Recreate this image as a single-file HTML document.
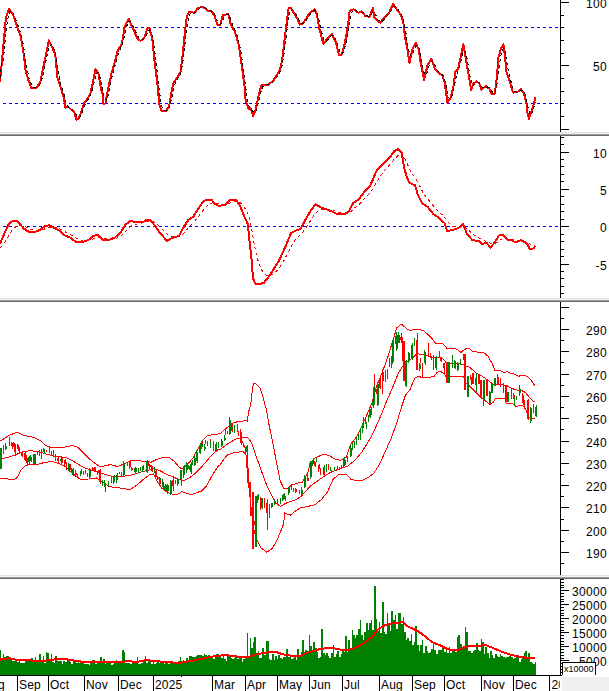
<!DOCTYPE html>
<html><head><meta charset="utf-8"><title>Chart</title>
<style>
html,body{margin:0;padding:0;background:#fff;}
body{width:609px;height:691px;overflow:hidden;}
svg{display:block;}
text{font-family:"Liberation Sans",sans-serif;fill:#000;}
</style></head><body>
<svg width="609" height="691" viewBox="0 0 609 691" shape-rendering="crispEdges">
<rect x="0" y="0" width="609" height="691" fill="#fff"/>
<rect x="560" y="0" width="1" height="132" fill="#000"/>
<rect x="560" y="136" width="1" height="162" fill="#000"/>
<rect x="560" y="302" width="1" height="273" fill="#000"/>
<rect x="560" y="579" width="1" height="97" fill="#000"/>
<rect x="0" y="132" width="609" height="1" fill="#e3e3e3"/>
<rect x="0" y="133" width="609" height="1" fill="#f0f0f0"/>
<rect x="0" y="134" width="609" height="1" fill="#a0a0a0"/>
<rect x="0" y="135" width="609" height="1" fill="#696969"/>
<rect x="0" y="298" width="609" height="1" fill="#e3e3e3"/>
<rect x="0" y="299" width="609" height="1" fill="#f0f0f0"/>
<rect x="0" y="300" width="609" height="1" fill="#a0a0a0"/>
<rect x="0" y="301" width="609" height="1" fill="#696969"/>
<rect x="0" y="575" width="609" height="1" fill="#e3e3e3"/>
<rect x="0" y="576" width="609" height="1" fill="#f0f0f0"/>
<rect x="0" y="577" width="609" height="1" fill="#a0a0a0"/>
<rect x="0" y="578" width="609" height="1" fill="#696969"/>
<rect x="560" y="129" width="9" height="1" fill="#000"/>
<rect x="560" y="116" width="4" height="1" fill="#000"/>
<rect x="560" y="103" width="4" height="1" fill="#000"/>
<rect x="560" y="91" width="4" height="1" fill="#000"/>
<rect x="560" y="78" width="4" height="1" fill="#000"/>
<rect x="560" y="65" width="9" height="1" fill="#000"/>
<rect x="560" y="53" width="4" height="1" fill="#000"/>
<rect x="560" y="40" width="4" height="1" fill="#000"/>
<rect x="560" y="27" width="4" height="1" fill="#000"/>
<rect x="560" y="15" width="4" height="1" fill="#000"/>
<rect x="560" y="2" width="9" height="1" fill="#000"/>
<text x="606.9" y="8.1" text-anchor="end" font-size="12" letter-spacing="0.3">100</text>
<text x="606.9" y="71.1" text-anchor="end" font-size="12" letter-spacing="0.3">50</text>
<rect x="560" y="293" width="4" height="1" fill="#000"/>
<rect x="560" y="286" width="4" height="1" fill="#000"/>
<rect x="560" y="278" width="4" height="1" fill="#000"/>
<rect x="560" y="271" width="4" height="1" fill="#000"/>
<rect x="560" y="264" width="9" height="1" fill="#000"/>
<rect x="560" y="256" width="4" height="1" fill="#000"/>
<rect x="560" y="249" width="4" height="1" fill="#000"/>
<rect x="560" y="241" width="4" height="1" fill="#000"/>
<rect x="560" y="234" width="4" height="1" fill="#000"/>
<rect x="560" y="226" width="9" height="1" fill="#000"/>
<rect x="560" y="219" width="4" height="1" fill="#000"/>
<rect x="560" y="211" width="4" height="1" fill="#000"/>
<rect x="560" y="204" width="4" height="1" fill="#000"/>
<rect x="560" y="196" width="4" height="1" fill="#000"/>
<rect x="560" y="189" width="9" height="1" fill="#000"/>
<rect x="560" y="181" width="4" height="1" fill="#000"/>
<rect x="560" y="174" width="4" height="1" fill="#000"/>
<rect x="560" y="166" width="4" height="1" fill="#000"/>
<rect x="560" y="159" width="4" height="1" fill="#000"/>
<rect x="560" y="152" width="9" height="1" fill="#000"/>
<rect x="560" y="144" width="4" height="1" fill="#000"/>
<rect x="560" y="137" width="4" height="1" fill="#000"/>
<text x="606.9" y="158.1" text-anchor="end" font-size="12" letter-spacing="0.3">10</text>
<text x="606.9" y="195.1" text-anchor="end" font-size="12" letter-spacing="0.3">5</text>
<text x="606.9" y="232.1" text-anchor="end" font-size="12" letter-spacing="0.3">0</text>
<text x="606.9" y="270.1" text-anchor="end" font-size="12" letter-spacing="0.3">-5</text>
<rect x="560" y="563" width="4" height="1" fill="#000"/>
<rect x="560" y="552" width="9" height="1" fill="#000"/>
<rect x="560" y="541" width="4" height="1" fill="#000"/>
<rect x="560" y="530" width="9" height="1" fill="#000"/>
<rect x="560" y="519" width="4" height="1" fill="#000"/>
<rect x="560" y="507" width="9" height="1" fill="#000"/>
<rect x="560" y="496" width="4" height="1" fill="#000"/>
<rect x="560" y="485" width="9" height="1" fill="#000"/>
<rect x="560" y="474" width="4" height="1" fill="#000"/>
<rect x="560" y="463" width="9" height="1" fill="#000"/>
<rect x="560" y="452" width="4" height="1" fill="#000"/>
<rect x="560" y="441" width="9" height="1" fill="#000"/>
<rect x="560" y="429" width="4" height="1" fill="#000"/>
<rect x="560" y="418" width="9" height="1" fill="#000"/>
<rect x="560" y="407" width="4" height="1" fill="#000"/>
<rect x="560" y="396" width="9" height="1" fill="#000"/>
<rect x="560" y="385" width="4" height="1" fill="#000"/>
<rect x="560" y="374" width="9" height="1" fill="#000"/>
<rect x="560" y="362" width="4" height="1" fill="#000"/>
<rect x="560" y="351" width="9" height="1" fill="#000"/>
<rect x="560" y="340" width="4" height="1" fill="#000"/>
<rect x="560" y="329" width="9" height="1" fill="#000"/>
<rect x="560" y="318" width="4" height="1" fill="#000"/>
<rect x="560" y="307" width="9" height="1" fill="#000"/>
<text x="606.9" y="558.1" text-anchor="end" font-size="12" letter-spacing="0.3">190</text>
<text x="606.9" y="536.1" text-anchor="end" font-size="12" letter-spacing="0.3">200</text>
<text x="606.9" y="513.1" text-anchor="end" font-size="12" letter-spacing="0.3">210</text>
<text x="606.9" y="491.1" text-anchor="end" font-size="12" letter-spacing="0.3">220</text>
<text x="606.9" y="469.1" text-anchor="end" font-size="12" letter-spacing="0.3">230</text>
<text x="606.9" y="447.1" text-anchor="end" font-size="12" letter-spacing="0.3">240</text>
<text x="606.9" y="424.1" text-anchor="end" font-size="12" letter-spacing="0.3">250</text>
<text x="606.9" y="402.1" text-anchor="end" font-size="12" letter-spacing="0.3">260</text>
<text x="606.9" y="380.1" text-anchor="end" font-size="12" letter-spacing="0.3">270</text>
<text x="606.9" y="357.1" text-anchor="end" font-size="12" letter-spacing="0.3">280</text>
<text x="606.9" y="335.1" text-anchor="end" font-size="12" letter-spacing="0.3">290</text>
<rect x="560" y="672" width="4" height="1" fill="#000"/>
<rect x="560" y="669" width="4" height="1" fill="#000"/>
<rect x="560" y="666" width="4" height="1" fill="#000"/>
<rect x="560" y="663" width="4" height="1" fill="#000"/>
<rect x="560" y="660" width="9" height="1" fill="#000"/>
<rect x="560" y="658" width="4" height="1" fill="#000"/>
<rect x="560" y="655" width="4" height="1" fill="#000"/>
<rect x="560" y="652" width="4" height="1" fill="#000"/>
<rect x="560" y="649" width="4" height="1" fill="#000"/>
<rect x="560" y="646" width="9" height="1" fill="#000"/>
<rect x="560" y="644" width="4" height="1" fill="#000"/>
<rect x="560" y="641" width="4" height="1" fill="#000"/>
<rect x="560" y="638" width="4" height="1" fill="#000"/>
<rect x="560" y="635" width="4" height="1" fill="#000"/>
<rect x="560" y="632" width="9" height="1" fill="#000"/>
<rect x="560" y="630" width="4" height="1" fill="#000"/>
<rect x="560" y="627" width="4" height="1" fill="#000"/>
<rect x="560" y="624" width="4" height="1" fill="#000"/>
<rect x="560" y="621" width="4" height="1" fill="#000"/>
<rect x="560" y="618" width="9" height="1" fill="#000"/>
<rect x="560" y="615" width="4" height="1" fill="#000"/>
<rect x="560" y="613" width="4" height="1" fill="#000"/>
<rect x="560" y="610" width="4" height="1" fill="#000"/>
<rect x="560" y="607" width="4" height="1" fill="#000"/>
<rect x="560" y="604" width="9" height="1" fill="#000"/>
<rect x="560" y="601" width="4" height="1" fill="#000"/>
<rect x="560" y="599" width="4" height="1" fill="#000"/>
<rect x="560" y="596" width="4" height="1" fill="#000"/>
<rect x="560" y="593" width="4" height="1" fill="#000"/>
<rect x="560" y="590" width="9" height="1" fill="#000"/>
<rect x="560" y="587" width="4" height="1" fill="#000"/>
<rect x="560" y="585" width="4" height="1" fill="#000"/>
<rect x="560" y="582" width="4" height="1" fill="#000"/>
<rect x="560" y="579" width="4" height="1" fill="#000"/>
<text x="606.9" y="596.1" text-anchor="end" font-size="12" letter-spacing="0.3">30000</text>
<text x="606.9" y="610.1" text-anchor="end" font-size="12" letter-spacing="0.3">25000</text>
<text x="606.9" y="624.1" text-anchor="end" font-size="12" letter-spacing="0.3">20000</text>
<text x="606.9" y="638.1" text-anchor="end" font-size="12" letter-spacing="0.3">15000</text>
<text x="606.9" y="652.1" text-anchor="end" font-size="12" letter-spacing="0.3">10000</text>
<text x="606.9" y="666.1" text-anchor="end" font-size="12" letter-spacing="0.3">5000</text>
<line x1="3" y1="27.5" x2="560" y2="27.5" stroke="#0000ff" stroke-width="1" stroke-dasharray="3 3"/>
<line x1="3" y1="103.5" x2="560" y2="103.5" stroke="#0000ff" stroke-width="1" stroke-dasharray="3 3"/>
<line x1="3" y1="226.5" x2="560" y2="226.5" stroke="#0000ff" stroke-width="1" stroke-dasharray="3 3"/>
<polyline points="0.0,81.8 1.6,65.0 3.9,39.4 5.9,17.7 8.9,8.9 12.8,13.8 16.7,25.6 20.7,36.5 23.6,53.2 25.6,71.0 28.6,80.8 31.1,87.7 36.5,88.0 40.4,81.8 43.3,67.0 46.3,53.2 48.9,40.4 51.6,46.3 55.2,54.2 57.5,77.8 61.1,88.7 64.0,98.5 65.4,108.0 68.0,106.4 70.9,109.4 73.9,111.3 76.5,119.6 78.8,118.2 81.8,110.3 84.3,102.5 87.7,98.5 90.6,92.6 93.6,78.8 95.6,69.0 98.5,73.9 100.9,88.7 102.9,94.6 103.4,103.8 105.4,103.4 108.0,89.7 111.3,73.9 113.9,65.0 117.9,50.2 121.8,44.3 124.8,26.6 128.7,18.7 130.7,23.6 133.6,29.6 136.6,37.4 140.5,41.0 144.5,37.4 147.4,28.6 149.4,28.2 152.4,39.4 154.3,59.1 157.3,82.8 159.3,104.4 161.6,111.3 166.2,110.7 169.1,106.4 171.1,94.6 173.1,83.7 177.0,77.8 180.5,71.9 182.9,53.2 184.9,31.5 186.8,16.7 189.2,11.8 194.7,12.8 197.7,8.3 201.6,6.9 204.6,7.9 207.5,10.8 211.5,10.8 214.4,15.8 217.4,24.6 220.0,25.6 223.0,14.8 228.3,14.2 230.8,24.6 234.8,31.5 238.7,44.3 241.7,65.0 244.6,86.7 245.6,100.5 248.6,109.4 250.5,108.4 253.1,115.9 255.5,110.3 258.4,96.6 261.4,85.1 268.3,84.7 273.2,80.8 276.2,75.9 279.1,71.9 282.1,61.1 284.6,39.4 287.0,19.7 288.6,8.3 290.9,7.9 294.9,14.8 297.8,19.7 299.8,24.6 302.8,23.6 306.7,17.7 309.7,12.8 314.6,9.3 316.9,14.8 319.5,29.6 323.4,43.7 327.4,38.4 331.9,33.9 335.9,42.4 338.9,54.8 341.8,54.8 344.8,43.3 347.7,27.6 349.7,10.8 353.6,9.3 358.6,12.8 361.5,11.4 365.5,16.2 369.4,16.7 373.0,7.9 374.3,17.7 380.2,22.7 384.2,17.7 389.1,12.8 393.1,3.9 397.0,9.9 400.9,14.8 403.3,21.7 404.9,36.5 407.8,51.2 409.4,63.1 412.4,49.3 415.7,43.0 418.7,49.3 421.0,65.0 424.2,79.8 427.5,65.0 431.5,58.7 434.4,68.0 437.4,71.9 442.3,75.3 444.7,82.8 447.5,102.5 450.8,97.5 453.4,86.7 455.4,71.3 458.1,69.0 460.7,57.1 463.3,44.3 464.6,51.2 467.6,69.0 471.1,89.7 473.5,83.7 476.5,81.2 479.4,83.7 481.4,89.7 485.7,86.1 489.3,88.7 491.6,93.6 494.8,93.6 496.7,78.8 498.5,57.1 501.1,48.3 503.4,44.3 505.0,57.1 506.6,72.9 510.0,81.8 512.9,92.6 517.2,92.2 520.8,89.1 523.7,92.6 526.3,102.5 527.7,114.3 529.1,118.8 531.0,112.3 533.6,104.4 535.6,96.6" fill="none" stroke="#ff0000" stroke-width="2" stroke-linejoin="round"/>
<polyline points="0.1,77.6 1.7,60.6 3.3,60.4 4.9,43.0 6.5,27.9 8.1,17.0 9.7,11.9 11.3,11.0 12.8,12.4 14.4,15.6 16.0,19.7 17.6,24.4 19.2,28.9 20.8,33.7 22.4,40.1 24.0,48.8 25.6,59.8 27.2,69.5 28.8,77.1 30.4,81.9 32.0,85.5 33.6,87.4 35.1,87.9 36.7,87.6 38.3,86.6 39.9,84.6 41.5,80.4 43.1,74.4 44.7,66.7 46.3,59.1 47.9,51.6 49.5,46.0 51.1,44.0 52.7,45.8 54.3,49.3 55.9,55.4 57.4,65.1 59.0,75.3 60.6,83.4 62.2,88.4 63.8,93.7 65.4,100.2 67.0,104.6 68.6,107.3 70.2,107.7 71.8,108.8 73.4,110.1 75.0,112.3 76.6,115.4 78.2,117.8 79.8,117.6 81.3,114.7 82.9,110.5 84.5,106.1 86.1,102.6 87.7,99.9 89.3,97.5 90.9,94.1 92.5,89.0 94.1,82.4 95.7,75.7 97.3,72.3 98.9,73.3 100.5,79.4 102.1,86.3 103.6,94.8 105.2,99.8 106.8,100.2 108.4,94.4 110.0,86.4 111.6,78.9 113.2,72.3 114.8,66.2 116.4,60.5 118.0,55.0 119.6,50.5 121.2,47.2 122.8,43.0 124.4,36.4 125.9,29.3 127.5,23.9 129.1,21.5 130.7,21.7 132.3,24.1 133.9,27.7 135.5,31.4 137.1,34.9 138.7,37.7 140.3,39.6 141.9,40.0 143.5,39.5 145.1,37.4 146.7,34.3 148.2,31.0 149.8,29.8 151.4,32.1 153.0,39.0 154.6,50.0 156.2,63.2 157.8,77.4 159.4,91.2 161.0,102.5 162.6,109.0 164.2,110.8 165.8,110.9 167.4,110.1 169.0,108.2 170.6,103.4 172.1,96.3 173.7,88.5 175.3,83.1 176.9,79.9 178.5,77.3 180.1,74.7 181.7,69.0 183.3,59.3 184.9,45.0 186.5,30.6 188.1,19.9 189.7,14.1 191.3,12.6 192.9,12.2 194.4,12.5 196.0,11.9 197.6,10.4 199.2,8.7 200.8,7.6 202.4,7.3 204.0,7.4 205.6,8.1 207.2,9.3 208.8,10.3 210.4,10.8 212.0,11.2 213.6,12.6 215.2,15.3 216.7,19.1 218.3,22.5 219.9,24.5 221.5,23.0 223.1,19.5 224.7,16.1 226.3,14.6 227.9,14.4 229.5,16.3 231.1,20.1 232.7,24.8 234.3,28.4 235.9,31.8 237.5,36.1 239.0,42.0 240.6,49.9 242.2,59.9 243.8,71.4 245.4,85.1 247.0,96.5 248.6,105.2 250.2,107.7 251.8,110.2 253.4,112.0 255.0,112.8 256.6,109.7 258.2,103.7 259.8,96.8 261.4,90.6 262.9,86.8 264.5,85.0 266.1,84.9 267.7,84.8 269.3,84.4 270.9,83.6 272.5,82.4 274.1,80.8 275.7,78.7 277.3,76.4 278.9,74.0 280.5,70.5 282.1,65.5 283.7,56.6 285.2,45.2 286.8,31.8 288.4,19.5 290.0,11.7 291.6,8.6 293.2,10.0 294.8,12.4 296.4,15.1 298.0,18.0 299.6,21.1 301.2,23.2 302.8,23.9 304.4,22.7 306.0,20.8 307.5,18.3 309.1,15.8 310.7,13.6 312.3,11.9 313.9,10.7 315.5,10.8 317.1,13.2 318.7,18.9 320.3,26.0 321.9,33.2 323.5,38.7 325.1,41.2 326.7,41.1 328.3,39.1 329.9,37.3 331.4,35.6 333.0,35.6 334.6,37.1 336.2,40.8 337.8,45.6 339.4,50.4 341.0,53.7 342.6,53.4 344.2,50.0 345.8,43.8 347.4,36.2 349.0,26.2 350.6,17.5 352.2,11.5 353.7,9.9 355.3,10.0 356.9,10.7 358.5,11.8 360.1,12.2 361.7,12.2 363.3,12.6 364.9,13.9 366.5,15.4 368.1,16.3 369.7,16.1 371.3,14.4 372.9,11.9 374.5,12.9 376.0,15.5 377.6,19.4 379.2,20.8 380.8,21.5 382.4,21.1 384.0,19.6 385.6,17.7 387.2,16.0 388.8,14.4 390.4,12.2 392.0,9.3 393.6,6.7 395.2,6.1 396.8,7.5 398.3,9.8 399.9,12.0 401.5,14.5 403.1,18.1 404.7,25.8 406.3,35.1 407.9,45.5 409.5,53.6 411.1,56.5 412.7,54.5 414.3,49.1 415.9,45.8 417.5,45.5 419.1,48.4 420.7,55.3 422.2,63.5 423.8,72.1 425.4,74.9 427.0,72.7 428.6,67.2 430.2,62.9 431.8,61.2 433.4,62.2 435.0,65.2 436.6,68.7 438.2,71.0 439.8,72.5 441.4,73.8 443.0,75.6 444.5,79.0 446.1,85.7 447.7,93.5 449.3,98.7 450.9,98.9 452.5,94.7 454.1,88.0 455.7,79.6 457.3,73.1 458.9,68.1 460.5,63.4 462.1,56.5 463.7,51.1 465.3,51.2 466.8,57.0 468.4,66.3 470.0,75.8 471.6,82.9 473.2,85.5 474.8,84.6 476.4,82.5 478.0,82.2 479.6,83.1 481.2,85.9 482.8,87.7 484.4,88.3 486.0,87.3 487.6,87.0 489.2,87.7 490.7,89.7 492.3,91.7 493.9,93.2 495.5,90.9 497.1,83.1 498.7,70.4 500.3,58.5 501.9,50.6 503.5,47.9 505.1,51.6 506.7,60.7 508.3,70.9 509.9,78.1 511.5,82.9 513.0,87.8 514.6,91.1 516.2,92.4 517.8,92.0 519.4,91.2 521.0,90.4 522.6,90.5 524.2,92.3 525.8,96.3 527.4,103.8 529.0,111.4 530.6,115.0 532.2,112.9 533.8,107.7 535.3,102.4" fill="none" stroke="#000" stroke-width="1" stroke-dasharray="3 3"/>
<polyline points="0.4,247.8 2.0,246.0 3.6,243.9 5.2,241.5 6.8,238.8 8.4,236.0 10.0,233.4 11.6,231.1 13.1,229.2 14.7,227.6 16.3,226.3 17.9,225.5 19.5,225.1 21.1,225.2 22.7,225.6 24.3,226.3 25.9,227.0 27.5,227.8 29.1,228.6 30.7,229.3 32.3,229.8 33.9,230.3 35.4,230.6 37.0,230.7 38.6,230.7 40.2,230.4 41.8,230.0 43.4,229.4 45.0,228.8 46.6,228.2 48.2,227.7 49.8,227.3 51.4,227.1 53.0,227.2 54.6,227.3 56.2,227.7 57.7,228.1 59.3,228.7 60.9,229.3 62.5,230.2 64.1,231.1 65.7,232.1 67.3,232.9 68.9,233.8 70.5,234.6 72.1,235.4 73.7,236.4 75.3,237.4 76.9,238.4 78.5,239.2 80.1,239.8 81.6,240.3 83.2,240.6 84.8,240.7 86.4,240.7 88.0,240.6 89.6,240.3 91.2,239.7 92.8,239.0 94.4,238.3 96.0,237.7 97.6,237.2 99.2,237.0 100.8,237.1 102.4,237.5 103.9,238.0 105.5,238.3 107.1,238.7 108.7,239.0 110.3,239.1 111.9,239.0 113.5,238.8 115.1,238.5 116.7,238.0 118.3,237.3 119.9,236.5 121.5,235.4 123.1,234.0 124.7,232.4 126.2,230.7 127.8,229.1 129.4,227.6 131.0,226.3 132.6,225.4 134.2,224.6 135.8,224.2 137.4,223.8 139.0,223.4 140.6,223.2 142.2,223.0 143.8,222.7 145.4,222.3 147.0,221.8 148.5,221.5 150.1,221.2 151.7,221.4 153.3,221.9 154.9,222.6 156.5,223.7 158.1,225.0 159.7,226.5 161.3,228.1 162.9,229.7 164.5,231.4 166.1,233.1 167.7,234.5 169.3,235.5 170.9,236.2 172.4,236.5 174.0,236.7 175.6,236.8 177.2,236.7 178.8,236.5 180.4,235.8 182.0,234.7 183.6,233.2 185.2,231.5 186.8,229.7 188.4,227.8 190.0,226.0 191.6,224.3 193.2,222.8 194.7,221.1 196.3,219.3 197.9,217.3 199.5,215.2 201.1,213.1 202.7,210.9 204.3,208.9 205.9,207.1 207.5,205.6 209.1,204.4 210.7,203.4 212.3,202.9 213.9,202.8 215.5,203.1 217.0,203.5 218.6,203.9 220.2,204.2 221.8,204.5 223.4,204.6 225.0,204.6 226.6,204.4 228.2,203.9 229.8,203.2 231.4,202.5 233.0,202.0 234.6,201.6 236.2,201.3 237.8,201.5 239.3,202.1 240.9,203.3 242.5,205.1 244.1,207.2 245.7,209.7 247.3,212.3 248.9,216.9 250.5,223.5 252.1,231.9 253.7,241.5 255.3,249.9 256.9,256.7 258.5,262.1 260.1,266.5 261.7,269.9 263.2,272.5 264.8,274.3 266.4,275.4 268.0,275.8 269.6,275.7 271.2,275.1 272.8,274.2 274.4,272.9 276.0,271.4 277.6,269.7 279.2,267.8 280.8,265.6 282.4,263.1 284.0,260.5 285.5,257.6 287.1,254.6 288.7,251.4 290.3,248.1 291.9,244.9 293.5,242.3 295.1,240.0 296.7,238.1 298.3,236.4 299.9,235.0 301.5,233.4 303.1,231.6 304.7,229.5 306.3,227.3 307.8,224.9 309.4,222.5 311.0,220.0 312.6,217.6 314.2,215.3 315.8,213.1 317.4,211.6 319.0,210.5 320.6,209.9 322.2,209.5 323.8,209.3 325.4,209.2 327.0,209.3 328.6,209.4 330.2,209.7 331.7,210.0 333.3,210.5 334.9,211.0 336.5,211.6 338.1,212.0 339.7,212.5 341.3,212.8 342.9,213.1 344.5,213.3 346.1,213.3 347.7,213.1 349.3,212.5 350.9,211.5 352.5,210.1 354.0,208.6 355.6,207.1 357.2,205.8 358.8,204.5 360.4,203.0 362.0,201.4 363.6,199.7 365.2,197.9 366.8,196.2 368.4,194.6 370.0,192.9 371.6,190.8 373.2,188.4 374.8,185.7 376.3,182.9 377.9,180.0 379.5,177.5 381.1,175.1 382.7,172.9 384.3,170.8 385.9,168.9 387.5,167.1 389.1,165.3 390.7,163.5 392.3,161.6 393.9,159.6 395.5,157.8 397.1,156.2 398.6,154.8 400.2,154.0 401.8,153.8 403.4,155.8 405.0,158.8 406.6,162.3 408.2,165.9 409.8,169.3 411.4,172.2 413.0,174.7 414.6,176.8 416.2,179.2 417.8,182.3 419.4,185.4 421.0,188.5 422.5,191.6 424.1,194.2 425.7,196.5 427.3,198.6 428.9,200.5 430.5,202.5 432.1,204.5 433.7,206.5 435.3,208.3 436.9,209.9 438.5,211.4 440.1,213.0 441.7,214.4 443.3,215.9 444.8,217.6 446.4,219.9 448.0,222.1 449.6,223.8 451.2,225.1 452.8,226.1 454.4,226.7 456.0,227.2 457.6,227.4 459.2,227.4 460.8,227.1 462.4,226.7 464.0,226.6 465.6,227.4 467.1,228.7 468.7,230.1 470.3,231.6 471.9,233.2 473.5,234.7 475.1,235.8 476.7,236.8 478.3,237.7 479.9,238.5 481.5,239.5 483.1,240.4 484.7,241.0 486.3,241.3 487.9,241.9 489.5,242.8 491.0,243.6 492.6,243.9 494.2,243.7 495.8,243.1 497.4,242.1 499.0,240.7 500.6,239.6 502.2,238.7 503.8,238.1 505.4,238.0 507.0,238.3 508.6,238.6 510.2,238.9 511.8,239.2 513.3,239.6 514.9,240.1 516.5,240.5 518.1,240.7 519.7,240.7 521.3,240.6 522.9,240.8 524.5,241.1 526.1,241.5 527.7,242.1 529.3,243.3 530.9,244.4 532.5,245.3 534.1,245.9 535.6,246.3" fill="none" stroke="#ff0000" stroke-width="1" stroke-dasharray="3 3"/>
<polyline points="0.0,243.7 3.6,235.3 8.4,224.6 11.9,221.5 16.7,221.0 20.3,224.6 23.9,228.6 28.7,231.8 34.6,232.2 39.4,230.1 44.2,226.5 49.0,225.3 53.8,227.7 59.7,231.0 64.5,235.3 70.5,237.7 76.4,242.5 82.4,242.0 88.4,240.1 93.2,235.8 97.9,234.9 102.7,239.6 108.7,240.1 114.7,237.7 120.6,232.5 125.4,224.6 130.2,221.0 136.0,222.2 143.1,222.2 146.7,219.8 150.3,220.3 155.1,225.8 159.9,232.9 167.0,240.8 171.8,238.2 179.0,235.8 183.7,227.0 188.5,219.8 193.3,216.7 198.1,209.1 202.9,201.9 206.4,199.5 211.2,199.5 214.8,203.8 218.4,205.7 224.4,205.2 230.3,200.0 236.3,200.0 239.9,205.5 244.7,217.4 247.8,223.9 249.4,240.1 251.8,261.6 253.0,278.3 255.4,283.8 260.0,283.8 263.6,283.1 268.4,277.1 273.1,270.0 279.1,260.4 285.1,247.3 291.1,232.9 295.8,230.6 300.6,228.9 305.4,219.8 310.2,211.4 315.4,204.3 320.9,207.4 329.3,210.3 336.4,213.8 343.6,214.5 348.4,211.9 353.2,203.1 359.1,199.0 363.9,192.3 369.9,186.4 373.5,178.0 377.1,169.6 381.8,164.9 387.8,159.6 390.0,157.3 394.2,151.2 398.4,149.0 401.7,152.3 404.0,167.1 406.7,176.9 409.5,183.0 415.1,185.3 417.9,195.0 422.1,203.4 427.7,207.0 433.3,214.0 438.9,217.9 444.4,222.9 447.2,231.3 452.8,229.9 458.4,228.0 463.1,224.3 466.8,233.5 472.4,240.2 479.3,241.1 482.1,244.4 486.3,242.5 490.5,247.5 494.7,242.5 498.9,235.5 503.1,234.9 507.3,239.7 511.4,240.2 515.6,242.5 520.7,240.2 524.0,241.9 527.6,244.4 529.6,248.9 532.4,248.6 535.2,248.1" fill="none" stroke="#ff0000" stroke-width="2" stroke-linejoin="round"/>
<polyline points="0.0,441.1 8.9,435.6 16.7,432.1 24.6,435.6 33.5,437.2 40.4,440.5 45.3,445.5 50.2,447.4 61.1,447.8 67.0,446.5 72.9,445.5 77.8,447.4 82.8,452.4 88.7,458.3 94.6,463.2 100.5,466.7 106.4,465.6 110.0,464.6 117.9,466.6 123.8,464.0 129.7,461.1 135.6,460.1 143.5,461.5 151.4,462.1 157.3,459.1 163.2,457.5 169.1,457.5 174.0,461.1 179.0,467.0 181.9,469.0 187.8,464.0 192.8,458.1 197.7,449.3 202.6,440.4 207.5,435.5 214.4,434.5 220.0,433.7 226.9,427.7 233.7,422.2 236.0,422.4 237.2,421.3 242.6,421.2 243.4,420.5 247.1,420.5 247.6,421.2 248.3,413.0 249.5,408.8 250.8,403.9 251.6,397.8 252.4,389.1 253.4,384.2 254.7,383.2 255.7,383.6 259.8,387.5 260.6,389.5 262.3,394.9 263.3,397.3 264.3,402.3 265.6,407.2 266.5,409.3 267.4,415.4 268.4,421.2 269.3,426.0 273.6,446.9 277.7,468.9 280.4,481.3 283.7,488.1 287.3,488.7 291.4,485.4 296.9,483.2 302.4,482.1 307.9,473.0 310.0,463.3 315.8,457.5 323.0,454.6 328.8,455.2 334.6,458.9 340.4,460.4 346.1,457.5 350.5,444.5 356.3,437.2 362.1,425.7 367.8,412.7 372.2,402.5 376.5,386.6 382.3,372.2 388.1,356.3 392.4,341.8 396.8,327.9 401.1,323.9 406.9,328.8 410.0,330.4 414.6,329.3 419.0,329.5 423.9,331.0 428.0,334.5 432.0,338.5 436.0,343.7 443.0,343.7 447.0,348.4 455.2,348.4 458.0,350.0 461.0,352.4 464.4,349.5 466.8,348.4 470.0,349.0 471.7,350.9 477.5,352.1 483.2,352.1 487.8,356.0 492.4,364.0 495.0,370.6 499.0,370.1 502.1,371.6 504.6,372.7 507.1,371.3 510.2,373.2 512.7,373.2 516.3,375.2 518.8,376.2 522.3,375.2 527.4,376.2 529.9,378.7 535.0,385.8" fill="none" stroke="#ff0000" stroke-width="1"/>
<polyline points="0.0,459.3 7.9,457.3 15.8,454.9 21.7,452.0 29.6,450.8 38.4,451.4 45.3,453.7 53.2,455.9 61.1,456.9 68.0,458.3 74.9,462.2 80.8,465.8 86.7,468.7 92.6,470.7 98.5,472.1 104.4,474.0 110.0,475.9 117.9,476.8 125.8,475.9 133.6,474.5 141.5,471.9 149.4,469.9 154.3,468.6 161.2,471.3 167.1,474.5 173.1,476.8 179.0,479.8 183.9,480.4 188.8,478.4 194.7,473.9 200.6,468.0 206.6,461.1 212.5,454.2 218.4,449.3 220.0,449.7 228.2,443.6 236.5,438.7 243.4,437.3 247.5,437.3 251.6,442.8 255.7,455.2 261.2,470.3 266.7,485.4 272.2,496.4 276.3,503.2 280.4,506.5 285.9,503.2 291.4,501.3 296.9,499.1 302.4,495.0 307.9,488.7 310.0,486.4 315.8,482.1 323.0,477.2 330.2,472.5 338.9,469.1 347.6,466.2 354.8,460.4 362.1,451.7 369.3,440.1 375.1,428.6 380.9,415.6 386.6,401.1 392.4,388.1 398.2,373.6 402.5,366.4 408.3,360.6 410.0,359.4 412.3,358.2 415.8,354.7 417.5,353.6 421.6,354.5 427.4,355.3 430.3,357.0 434.9,357.6 440.1,357.0 443.6,359.4 445.9,362.3 449.4,362.9 454.0,363.4 459.8,364.0 463.9,364.6 466.8,366.3 470.0,367.5 476.3,373.2 482.1,376.2 487.8,380.1 493.6,384.7 495.0,384.8 500.0,384.3 503.1,384.8 507.1,385.8 511.2,388.3 516.3,389.9 521.3,390.4 525.4,392.4 529.4,397.4 533.5,401.5 535.0,401.5" fill="none" stroke="#ff0000" stroke-width="1"/>
<polyline points="0.0,478.0 7.9,479.0 13.8,480.0 17.7,477.0 20.7,470.1 24.6,466.2 29.6,464.2 38.4,464.2 45.3,462.2 52.2,461.6 59.1,463.6 65.0,466.2 70.9,472.1 76.8,477.0 80.8,479.4 88.7,479.0 96.6,478.0 102.5,481.9 108.4,485.9 110.0,486.7 117.9,487.7 123.8,488.7 129.7,489.7 134.6,486.7 139.6,482.8 144.5,478.4 149.4,474.9 153.3,473.9 157.3,481.8 162.2,488.7 168.1,492.6 173.1,494.6 178.0,494.2 181.9,491.6 187.8,493.6 191.8,494.6 196.7,492.6 201.6,491.0 206.6,485.7 212.5,474.9 218.4,466.0 220.0,464.8 226.9,455.2 235.1,452.4 243.4,451.6 246.1,455.2 247.5,474.4 249.7,493.6 251.6,512.9 254.3,532.1 257.1,540.3 261.2,548.0 266.7,552.1 272.2,548.6 276.3,541.7 280.4,532.1 283.7,523.8 284.7,512.9 290.2,515.2 294.1,512.1 299.5,508.2 306.6,506.6 314.4,505.0 321.4,499.6 327.6,491.8 333.1,479.3 338.5,474.6 346.3,474.3 351.0,479.3 356.5,480.6 362.1,480.6 367.8,477.7 373.6,473.4 379.4,464.7 385.2,451.7 391.0,438.7 396.8,422.8 401.1,408.3 405.4,395.3 410.0,389.5 412.3,383.7 415.2,377.9 418.1,376.4 421.6,377.3 427.4,377.7 434.3,376.2 437.2,372.1 440.7,371.5 444.7,373.9 445.9,376.8 457.5,376.8 463.3,376.2 465.6,382.5 470.0,386.6 476.3,392.8 482.1,398.5 486.7,402.0 490.1,404.3 493.6,402.0 495.0,399.0 505.1,398.5 506.1,403.0 511.7,403.0 516.3,406.6 521.8,405.0 524.4,407.6 526.4,410.6 528.4,417.7 535.0,418.5" fill="none" stroke="#ff0000" stroke-width="1"/>
<rect x="0" y="448" width="2" height="21" fill="#008000"/>
<rect x="3" y="445" width="1" height="9" fill="#008000"/>
<rect x="5" y="443" width="1" height="7" fill="#008000"/>
<rect x="6" y="446" width="1" height="3" fill="#008000"/>
<rect x="9" y="437" width="1" height="9" fill="#008000"/>
<rect x="11" y="442" width="1" height="4" fill="#ff0000"/>
<rect x="12" y="443" width="1" height="6" fill="#ff0000"/>
<rect x="13" y="442" width="1" height="5" fill="#ff0000"/>
<rect x="14" y="443" width="1" height="9" fill="#ff0000"/>
<rect x="15" y="444" width="1" height="10" fill="#ff0000"/>
<rect x="17" y="444" width="1" height="5" fill="#ff0000"/>
<rect x="18" y="445" width="1" height="6" fill="#ff0000"/>
<rect x="19" y="447" width="1" height="6" fill="#ff0000"/>
<rect x="21" y="452" width="1" height="4" fill="#ff0000"/>
<rect x="22" y="452" width="1" height="5" fill="#ff0000"/>
<rect x="24" y="453" width="1" height="7" fill="#ff0000"/>
<rect x="25" y="451" width="1" height="10" fill="#ff0000"/>
<rect x="26" y="455" width="1" height="8" fill="#ff0000"/>
<rect x="27" y="458" width="1" height="6" fill="#008000"/>
<rect x="28" y="457" width="1" height="5" fill="#008000"/>
<rect x="29" y="456" width="1" height="8" fill="#008000"/>
<rect x="30" y="455" width="1" height="6" fill="#008000"/>
<rect x="31" y="457" width="1" height="5" fill="#008000"/>
<rect x="33" y="454" width="3" height="10" fill="#008000"/>
<rect x="37" y="451" width="1" height="4" fill="#008000"/>
<rect x="39" y="450" width="1" height="6" fill="#008000"/>
<rect x="41" y="449" width="1" height="10" fill="#008000"/>
<rect x="43" y="448" width="1" height="4" fill="#ff0000"/>
<rect x="44" y="449" width="1" height="5" fill="#008000"/>
<rect x="46" y="450" width="1" height="2" fill="#ff0000"/>
<rect x="49" y="446" width="1" height="7" fill="#008000"/>
<rect x="51" y="451" width="1" height="5" fill="#ff0000"/>
<rect x="53" y="450" width="1" height="7" fill="#ff0000"/>
<rect x="55" y="454" width="1" height="7" fill="#ff0000"/>
<rect x="57" y="458" width="1" height="3" fill="#008000"/>
<rect x="58" y="457" width="1" height="6" fill="#ff0000"/>
<rect x="60" y="459" width="1" height="2" fill="#008000"/>
<rect x="61" y="456" width="1" height="8" fill="#ff0000"/>
<rect x="62" y="457" width="1" height="6" fill="#ff0000"/>
<rect x="64" y="460" width="1" height="7" fill="#ff0000"/>
<rect x="65" y="459" width="1" height="5" fill="#ff0000"/>
<rect x="66" y="462" width="1" height="8" fill="#ff0000"/>
<rect x="68" y="463" width="1" height="8" fill="#008000"/>
<rect x="69" y="464" width="1" height="8" fill="#008000"/>
<rect x="70" y="464" width="1" height="6" fill="#ff0000"/>
<rect x="72" y="469" width="1" height="6" fill="#008000"/>
<rect x="73" y="468" width="1" height="8" fill="#008000"/>
<rect x="71" y="468" width="1" height="4" fill="#ff0000"/>
<rect x="75" y="470" width="1" height="7" fill="#ff0000"/>
<rect x="76" y="473" width="1" height="2" fill="#ff0000"/>
<rect x="77" y="474" width="1" height="4" fill="#ff0000"/>
<rect x="78" y="477" width="1" height="2" fill="#ff0000"/>
<rect x="80" y="471" width="1" height="5" fill="#008000"/>
<rect x="81" y="469" width="1" height="5" fill="#008000"/>
<rect x="83" y="471" width="1" height="4" fill="#008000"/>
<rect x="85" y="470" width="1" height="4" fill="#008000"/>
<rect x="87" y="473" width="1" height="4" fill="#ff0000"/>
<rect x="89" y="468" width="1" height="10" fill="#008000"/>
<rect x="90" y="470" width="1" height="7" fill="#008000"/>
<rect x="92" y="467" width="1" height="3" fill="#ff0000"/>
<rect x="93" y="468" width="1" height="3" fill="#ff0000"/>
<rect x="94" y="467" width="1" height="5" fill="#ff0000"/>
<rect x="95" y="467" width="1" height="5" fill="#ff0000"/>
<rect x="97" y="471" width="1" height="4" fill="#ff0000"/>
<rect x="98" y="470" width="1" height="2" fill="#ff0000"/>
<rect x="99" y="470" width="1" height="12" fill="#ff0000"/>
<rect x="100" y="469" width="1" height="15" fill="#ff0000"/>
<rect x="102" y="480" width="1" height="6" fill="#008000"/>
<rect x="104" y="480" width="1" height="7" fill="#008000"/>
<rect x="105" y="483" width="1" height="5" fill="#008000"/>
<rect x="105" y="487" width="1" height="5" fill="#008000"/>
<rect x="108" y="481" width="1" height="5" fill="#008000"/>
<rect x="111" y="477" width="1" height="6" fill="#008000"/>
<rect x="113" y="476" width="1" height="8" fill="#008000"/>
<rect x="114" y="475" width="1" height="7" fill="#008000"/>
<rect x="116" y="475" width="1" height="8" fill="#008000"/>
<rect x="117" y="473" width="1" height="7" fill="#008000"/>
<rect x="119" y="472" width="1" height="2" fill="#008000"/>
<rect x="121" y="472" width="1" height="5" fill="#ff0000"/>
<rect x="123" y="461" width="1" height="3" fill="#ff0000"/>
<rect x="123" y="464" width="1" height="13" fill="#008000"/>
<rect x="124" y="463" width="1" height="12" fill="#008000"/>
<rect x="127" y="463" width="1" height="3" fill="#008000"/>
<rect x="129" y="462" width="1" height="7" fill="#ff0000"/>
<rect x="130" y="461" width="1" height="6" fill="#ff0000"/>
<rect x="131" y="467" width="1" height="4" fill="#ff0000"/>
<rect x="132" y="468" width="1" height="2" fill="#ff0000"/>
<rect x="134" y="468" width="1" height="4" fill="#008000"/>
<rect x="135" y="467" width="1" height="7" fill="#008000"/>
<rect x="136" y="468" width="1" height="4" fill="#008000"/>
<rect x="138" y="468" width="1" height="5" fill="#008000"/>
<rect x="140" y="467" width="1" height="4" fill="#008000"/>
<rect x="142" y="466" width="1" height="6" fill="#008000"/>
<rect x="143" y="465" width="1" height="5" fill="#008000"/>
<rect x="146" y="461" width="1" height="11" fill="#008000"/>
<rect x="147" y="460" width="1" height="13" fill="#008000"/>
<rect x="148" y="462" width="1" height="4" fill="#ff0000"/>
<rect x="149" y="464" width="1" height="5" fill="#ff0000"/>
<rect x="150" y="465" width="1" height="2" fill="#ff0000"/>
<rect x="151" y="465" width="1" height="6" fill="#ff0000"/>
<rect x="152" y="466" width="1" height="6" fill="#ff0000"/>
<rect x="154" y="467" width="1" height="6" fill="#008000"/>
<rect x="155" y="471" width="1" height="8" fill="#ff0000"/>
<rect x="156" y="470" width="1" height="7" fill="#ff0000"/>
<rect x="157" y="476" width="1" height="4" fill="#ff0000"/>
<rect x="158" y="477" width="1" height="2" fill="#ff0000"/>
<rect x="159" y="477" width="1" height="8" fill="#008000"/>
<rect x="160" y="478" width="1" height="6" fill="#008000"/>
<rect x="160" y="480" width="1" height="4" fill="#ff0000"/>
<rect x="162" y="479" width="1" height="8" fill="#008000"/>
<rect x="163" y="482" width="1" height="7" fill="#008000"/>
<rect x="164" y="486" width="1" height="4" fill="#008000"/>
<rect x="165" y="484" width="1" height="8" fill="#008000"/>
<rect x="166" y="485" width="1" height="6" fill="#008000"/>
<rect x="167" y="484" width="1" height="10" fill="#008000"/>
<rect x="168" y="485" width="1" height="6" fill="#008000"/>
<rect x="170" y="480" width="1" height="15" fill="#008000"/>
<rect x="171" y="481" width="1" height="13" fill="#008000"/>
<rect x="173" y="478" width="1" height="13" fill="#ff0000"/>
<rect x="172" y="480" width="1" height="6" fill="#ff0000"/>
<rect x="173" y="481" width="1" height="6" fill="#ff0000"/>
<rect x="175" y="480" width="1" height="4" fill="#ff0000"/>
<rect x="177" y="478" width="1" height="8" fill="#008000"/>
<rect x="178" y="479" width="1" height="5" fill="#008000"/>
<rect x="181" y="470" width="1" height="16" fill="#008000"/>
<rect x="180" y="470" width="1" height="9" fill="#008000"/>
<rect x="181" y="472" width="1" height="8" fill="#008000"/>
<rect x="183" y="466" width="1" height="12" fill="#008000"/>
<rect x="184" y="465" width="1" height="10" fill="#008000"/>
<rect x="186" y="462" width="1" height="11" fill="#008000"/>
<rect x="187" y="463" width="1" height="7" fill="#008000"/>
<rect x="188" y="465" width="1" height="4" fill="#008000"/>
<rect x="189" y="466" width="1" height="4" fill="#008000"/>
<rect x="190" y="464" width="1" height="8" fill="#008000"/>
<rect x="191" y="462" width="1" height="12" fill="#008000"/>
<rect x="192" y="460" width="1" height="5" fill="#008000"/>
<rect x="194" y="456" width="1" height="10" fill="#008000"/>
<rect x="195" y="458" width="1" height="7" fill="#008000"/>
<rect x="196" y="450" width="1" height="11" fill="#008000"/>
<rect x="197" y="452" width="1" height="11" fill="#008000"/>
<rect x="199" y="445" width="1" height="8" fill="#008000"/>
<rect x="200" y="443" width="1" height="11" fill="#008000"/>
<rect x="201" y="442" width="1" height="7" fill="#008000"/>
<rect x="202" y="440" width="1" height="7" fill="#008000"/>
<rect x="202" y="441" width="1" height="3" fill="#ff0000"/>
<rect x="204" y="444" width="1" height="7" fill="#008000"/>
<rect x="205" y="447" width="1" height="2" fill="#008000"/>
<rect x="205" y="440" width="1" height="4" fill="#ff0000"/>
<rect x="207" y="441" width="1" height="5" fill="#008000"/>
<rect x="210" y="439" width="1" height="9" fill="#008000"/>
<rect x="210" y="439" width="1" height="2" fill="#ff0000"/>
<rect x="213" y="441" width="1" height="10" fill="#ff0000"/>
<rect x="215" y="444" width="1" height="8" fill="#008000"/>
<rect x="216" y="442" width="1" height="8" fill="#008000"/>
<rect x="218" y="442" width="1" height="6" fill="#008000"/>
<rect x="221" y="439" width="1" height="8" fill="#008000"/>
<rect x="222" y="441" width="1" height="5" fill="#008000"/>
<rect x="224" y="435" width="1" height="6" fill="#008000"/>
<rect x="225" y="438" width="1" height="2" fill="#008000"/>
<rect x="225" y="430" width="1" height="5" fill="#ff0000"/>
<rect x="227" y="431" width="1" height="3" fill="#008000"/>
<rect x="227" y="432" width="1" height="2" fill="#ff0000"/>
<rect x="229" y="417" width="1" height="18" fill="#008000"/>
<rect x="230" y="420" width="1" height="14" fill="#008000"/>
<rect x="232" y="423" width="1" height="9" fill="#ff0000"/>
<rect x="231" y="425" width="1" height="6" fill="#008000"/>
<rect x="232" y="427" width="1" height="2" fill="#008000"/>
<rect x="234" y="425" width="1" height="8" fill="#008000"/>
<rect x="237" y="424" width="1" height="8" fill="#008000"/>
<rect x="237" y="424" width="1" height="2" fill="#ff0000"/>
<rect x="238" y="431" width="1" height="5" fill="#ff0000"/>
<rect x="240" y="429" width="1" height="14" fill="#ff0000"/>
<rect x="241" y="432" width="1" height="10" fill="#ff0000"/>
<rect x="241" y="440" width="1" height="5" fill="#ff0000"/>
<rect x="242" y="441" width="1" height="2" fill="#ff0000"/>
<rect x="243" y="443" width="1" height="4" fill="#ff0000"/>
<rect x="244" y="445" width="1" height="3" fill="#ff0000"/>
<rect x="245" y="447" width="1" height="7" fill="#008000"/>
<rect x="246" y="446" width="1" height="6" fill="#008000"/>
<rect x="247" y="445" width="1" height="38" fill="#ff0000"/>
<rect x="248" y="468" width="1" height="20" fill="#ff0000"/>
<rect x="249" y="482" width="1" height="10" fill="#ff0000"/>
<rect x="250" y="482" width="1" height="34" fill="#ff0000"/>
<rect x="252" y="492" width="2" height="57" fill="#ff0000"/>
<rect x="254" y="521" width="1" height="4" fill="#ff0000"/>
<rect x="255" y="496" width="2" height="51" fill="#008000"/>
<rect x="257" y="495" width="1" height="8" fill="#008000"/>
<rect x="258" y="494" width="1" height="6" fill="#008000"/>
<rect x="260" y="497" width="1" height="13" fill="#ff0000"/>
<rect x="261" y="498" width="1" height="10" fill="#ff0000"/>
<rect x="262" y="498" width="1" height="11" fill="#008000"/>
<rect x="264" y="498" width="1" height="10" fill="#ff0000"/>
<rect x="266" y="503" width="1" height="10" fill="#ff0000"/>
<rect x="267" y="499" width="1" height="31" fill="#ff0000"/>
<rect x="269" y="504" width="1" height="14" fill="#008000"/>
<rect x="271" y="503" width="1" height="5" fill="#008000"/>
<rect x="272" y="503" width="1" height="4" fill="#008000"/>
<rect x="274" y="500" width="1" height="5" fill="#008000"/>
<rect x="275" y="502" width="1" height="2" fill="#008000"/>
<rect x="277" y="499" width="1" height="6" fill="#008000"/>
<rect x="280" y="498" width="1" height="6" fill="#008000"/>
<rect x="282" y="495" width="1" height="6" fill="#008000"/>
<rect x="283" y="494" width="1" height="6" fill="#008000"/>
<rect x="284" y="493" width="1" height="6" fill="#008000"/>
<rect x="285" y="496" width="1" height="5" fill="#008000"/>
<rect x="288" y="487" width="1" height="8" fill="#008000"/>
<rect x="289" y="488" width="1" height="5" fill="#008000"/>
<rect x="291" y="484" width="1" height="6" fill="#008000"/>
<rect x="293" y="488" width="1" height="4" fill="#ff0000"/>
<rect x="295" y="488" width="1" height="5" fill="#ff0000"/>
<rect x="296" y="489" width="1" height="3" fill="#ff0000"/>
<rect x="299" y="490" width="1" height="4" fill="#ff0000"/>
<rect x="301" y="487" width="1" height="10" fill="#008000"/>
<rect x="302" y="490" width="1" height="4" fill="#008000"/>
<rect x="304" y="475" width="1" height="13" fill="#008000"/>
<rect x="305" y="476" width="1" height="11" fill="#008000"/>
<rect x="307" y="473" width="1" height="8" fill="#008000"/>
<rect x="308" y="478" width="1" height="3" fill="#ff0000"/>
<rect x="310" y="461" width="1" height="18" fill="#008000"/>
<rect x="311" y="462" width="1" height="15" fill="#008000"/>
<rect x="312" y="460" width="1" height="6" fill="#008000"/>
<rect x="313" y="458" width="1" height="6" fill="#008000"/>
<rect x="314" y="461" width="1" height="5" fill="#ff0000"/>
<rect x="315" y="462" width="1" height="5" fill="#ff0000"/>
<rect x="316" y="458" width="1" height="4" fill="#008000"/>
<rect x="318" y="465" width="1" height="7" fill="#ff0000"/>
<rect x="319" y="464" width="1" height="5" fill="#ff0000"/>
<rect x="320" y="468" width="1" height="7" fill="#ff0000"/>
<rect x="323" y="467" width="1" height="8" fill="#008000"/>
<rect x="324" y="465" width="1" height="12" fill="#008000"/>
<rect x="324" y="471" width="1" height="6" fill="#ff0000"/>
<rect x="326" y="464" width="1" height="8" fill="#008000"/>
<rect x="328" y="464" width="1" height="6" fill="#ff0000"/>
<rect x="330" y="467" width="1" height="4" fill="#008000"/>
<rect x="331" y="470" width="1" height="2" fill="#008000"/>
<rect x="334" y="467" width="1" height="4" fill="#008000"/>
<rect x="337" y="466" width="1" height="4" fill="#008000"/>
<rect x="339" y="467" width="1" height="3" fill="#008000"/>
<rect x="341" y="465" width="1" height="4" fill="#008000"/>
<rect x="343" y="459" width="1" height="9" fill="#008000"/>
<rect x="344" y="457" width="1" height="9" fill="#008000"/>
<rect x="345" y="460" width="1" height="5" fill="#008000"/>
<rect x="347" y="456" width="1" height="6" fill="#008000"/>
<rect x="350" y="445" width="1" height="12" fill="#008000"/>
<rect x="351" y="448" width="1" height="8" fill="#008000"/>
<rect x="352" y="443" width="1" height="7" fill="#008000"/>
<rect x="354" y="441" width="1" height="7" fill="#008000"/>
<rect x="356" y="437" width="1" height="8" fill="#008000"/>
<rect x="358" y="434" width="1" height="6" fill="#008000"/>
<rect x="360" y="428" width="1" height="12" fill="#008000"/>
<rect x="362" y="423" width="1" height="10" fill="#008000"/>
<rect x="363" y="417" width="1" height="11" fill="#008000"/>
<rect x="365" y="419" width="1" height="5" fill="#ff0000"/>
<rect x="366" y="422" width="1" height="7" fill="#008000"/>
<rect x="368" y="415" width="1" height="7" fill="#008000"/>
<rect x="369" y="408" width="1" height="9" fill="#008000"/>
<rect x="370" y="409" width="1" height="9" fill="#008000"/>
<rect x="371" y="407" width="1" height="8" fill="#008000"/>
<rect x="372" y="401" width="1" height="5" fill="#008000"/>
<rect x="373" y="403" width="1" height="2" fill="#008000"/>
<rect x="374" y="374" width="1" height="13" fill="#ff0000"/>
<rect x="373" y="387" width="1" height="21" fill="#008000"/>
<rect x="374" y="385" width="1" height="20" fill="#008000"/>
<rect x="376" y="389" width="1" height="5" fill="#ff0000"/>
<rect x="377" y="382" width="1" height="24" fill="#008000"/>
<rect x="378" y="384" width="1" height="21" fill="#008000"/>
<rect x="379" y="379" width="1" height="9" fill="#008000"/>
<rect x="380" y="376" width="1" height="13" fill="#ff0000"/>
<rect x="382" y="369" width="1" height="25" fill="#ff0000"/>
<rect x="383" y="372" width="1" height="9" fill="#008000"/>
<rect x="385" y="370" width="1" height="12" fill="#008000"/>
<rect x="387" y="369" width="1" height="10" fill="#008000"/>
<rect x="389" y="358" width="1" height="9" fill="#008000"/>
<rect x="391" y="356" width="1" height="12" fill="#008000"/>
<rect x="392" y="340" width="1" height="24" fill="#008000"/>
<rect x="393" y="339" width="1" height="23" fill="#008000"/>
<rect x="395" y="336" width="1" height="8" fill="#ff0000"/>
<rect x="396" y="332" width="1" height="19" fill="#008000"/>
<rect x="397" y="335" width="1" height="14" fill="#008000"/>
<rect x="398" y="332" width="1" height="11" fill="#008000"/>
<rect x="399" y="335" width="1" height="8" fill="#ff0000"/>
<rect x="400" y="337" width="1" height="3" fill="#ff0000"/>
<rect x="401" y="333" width="1" height="10" fill="#008000"/>
<rect x="402" y="337" width="1" height="24" fill="#ff0000"/>
<rect x="403" y="341" width="2" height="40" fill="#ff0000"/>
<rect x="405" y="361" width="1" height="25" fill="#008000"/>
<rect x="406" y="360" width="1" height="27" fill="#008000"/>
<rect x="408" y="352" width="1" height="11" fill="#008000"/>
<rect x="409" y="353" width="1" height="8" fill="#008000"/>
<rect x="411" y="345" width="1" height="14" fill="#008000"/>
<rect x="412" y="343" width="1" height="17" fill="#008000"/>
<rect x="414" y="338" width="1" height="8" fill="#008000"/>
<rect x="416" y="340" width="2" height="30" fill="#ff0000"/>
<rect x="417" y="333" width="1" height="8" fill="#ff0000"/>
<rect x="419" y="363" width="1" height="8" fill="#008000"/>
<rect x="420" y="364" width="1" height="5" fill="#008000"/>
<rect x="420" y="358" width="1" height="5" fill="#ff0000"/>
<rect x="422" y="363" width="1" height="15" fill="#ff0000"/>
<rect x="424" y="350" width="1" height="13" fill="#008000"/>
<rect x="425" y="352" width="1" height="13" fill="#008000"/>
<rect x="428" y="343" width="1" height="12" fill="#ff0000"/>
<rect x="430" y="353" width="1" height="5" fill="#ff0000"/>
<rect x="431" y="356" width="1" height="4" fill="#ff0000"/>
<rect x="433" y="355" width="1" height="15" fill="#ff0000"/>
<rect x="435" y="357" width="1" height="11" fill="#008000"/>
<rect x="436" y="356" width="1" height="14" fill="#008000"/>
<rect x="439" y="351" width="1" height="6" fill="#008000"/>
<rect x="440" y="357" width="1" height="4" fill="#ff0000"/>
<rect x="441" y="359" width="1" height="3" fill="#ff0000"/>
<rect x="443" y="363" width="1" height="5" fill="#008000"/>
<rect x="444" y="363" width="1" height="11" fill="#ff0000"/>
<rect x="446" y="363" width="2" height="20" fill="#ff0000"/>
<rect x="448" y="362" width="2" height="21" fill="#008000"/>
<rect x="452" y="355" width="1" height="13" fill="#008000"/>
<rect x="454" y="360" width="1" height="8" fill="#008000"/>
<rect x="455" y="361" width="1" height="8" fill="#008000"/>
<rect x="457" y="362" width="1" height="9" fill="#008000"/>
<rect x="458" y="363" width="1" height="7" fill="#008000"/>
<rect x="460" y="359" width="1" height="6" fill="#008000"/>
<rect x="463" y="354" width="1" height="6" fill="#008000"/>
<rect x="464" y="354" width="2" height="36" fill="#ff0000"/>
<rect x="467" y="376" width="2" height="21" fill="#008000"/>
<rect x="470" y="375" width="1" height="5" fill="#ff0000"/>
<rect x="471" y="377" width="1" height="8" fill="#008000"/>
<rect x="472" y="373" width="2" height="11" fill="#ff0000"/>
<rect x="476" y="373" width="1" height="19" fill="#008000"/>
<rect x="475" y="378" width="2" height="7" fill="#008000"/>
<rect x="478" y="374" width="2" height="10" fill="#ff0000"/>
<rect x="480" y="380" width="2" height="18" fill="#ff0000"/>
<rect x="483" y="380" width="1" height="26" fill="#008000"/>
<rect x="483" y="380" width="2" height="20" fill="#008000"/>
<rect x="486" y="380" width="2" height="16" fill="#ff0000"/>
<rect x="489" y="392" width="2" height="11" fill="#008000"/>
<rect x="489" y="391" width="1" height="2" fill="#ff0000"/>
<rect x="491" y="384" width="2" height="9" fill="#008000"/>
<rect x="494" y="378" width="2" height="8" fill="#008000"/>
<rect x="497" y="374" width="1" height="5" fill="#008000"/>
<rect x="497" y="377" width="2" height="8" fill="#ff0000"/>
<rect x="500" y="378" width="1" height="9" fill="#ff0000"/>
<rect x="503" y="383" width="1" height="10" fill="#ff0000"/>
<rect x="505" y="386" width="2" height="16" fill="#ff0000"/>
<rect x="507" y="392" width="2" height="10" fill="#008000"/>
<rect x="511" y="389" width="1" height="10" fill="#ff0000"/>
<rect x="513" y="393" width="1" height="6" fill="#ff0000"/>
<rect x="514" y="395" width="1" height="5" fill="#ff0000"/>
<rect x="514" y="398" width="1" height="8" fill="#008000"/>
<rect x="516" y="396" width="1" height="4" fill="#008000"/>
<rect x="519" y="385" width="1" height="5" fill="#ff0000"/>
<rect x="519" y="390" width="1" height="6" fill="#008000"/>
<rect x="520" y="389" width="1" height="4" fill="#008000"/>
<rect x="522" y="393" width="1" height="10" fill="#ff0000"/>
<rect x="523" y="395" width="1" height="10" fill="#ff0000"/>
<rect x="524" y="400" width="1" height="7" fill="#ff0000"/>
<rect x="527" y="400" width="1" height="19" fill="#ff0000"/>
<rect x="528" y="399" width="1" height="21" fill="#ff0000"/>
<rect x="530" y="407" width="1" height="16" fill="#008000"/>
<rect x="531" y="408" width="1" height="13" fill="#008000"/>
<rect x="533" y="404" width="1" height="7" fill="#ff0000"/>
<rect x="533" y="409" width="1" height="4" fill="#008000"/>
<rect x="535" y="407" width="1" height="9" fill="#008000"/>
<rect x="536" y="405" width="1" height="12" fill="#008000"/>
<rect x="0" y="650" width="1" height="25" fill="#008000"/>
<rect x="1" y="659" width="2" height="16" fill="#008000"/>
<rect x="3" y="654" width="1" height="21" fill="#008000"/>
<rect x="4" y="657" width="2" height="18" fill="#008000"/>
<rect x="6" y="656" width="2" height="19" fill="#008000"/>
<rect x="8" y="656" width="1" height="19" fill="#008000"/>
<rect x="9" y="659" width="2" height="16" fill="#008000"/>
<rect x="11" y="658" width="1" height="17" fill="#008000"/>
<rect x="12" y="661" width="2" height="14" fill="#008000"/>
<rect x="14" y="661" width="2" height="14" fill="#008000"/>
<rect x="16" y="661" width="1" height="14" fill="#008000"/>
<rect x="17" y="662" width="2" height="13" fill="#008000"/>
<rect x="19" y="660" width="1" height="15" fill="#008000"/>
<rect x="20" y="663" width="2" height="12" fill="#008000"/>
<rect x="22" y="663" width="1" height="12" fill="#008000"/>
<rect x="23" y="663" width="2" height="12" fill="#008000"/>
<rect x="25" y="660" width="2" height="15" fill="#008000"/>
<rect x="27" y="660" width="1" height="15" fill="#008000"/>
<rect x="28" y="661" width="2" height="14" fill="#008000"/>
<rect x="30" y="661" width="1" height="14" fill="#008000"/>
<rect x="31" y="658" width="2" height="17" fill="#008000"/>
<rect x="33" y="662" width="2" height="13" fill="#008000"/>
<rect x="35" y="657" width="1" height="18" fill="#008000"/>
<rect x="36" y="661" width="2" height="14" fill="#008000"/>
<rect x="38" y="662" width="1" height="13" fill="#008000"/>
<rect x="39" y="654" width="2" height="21" fill="#008000"/>
<rect x="41" y="661" width="2" height="14" fill="#008000"/>
<rect x="43" y="656" width="1" height="19" fill="#008000"/>
<rect x="44" y="663" width="2" height="12" fill="#008000"/>
<rect x="46" y="652" width="1" height="23" fill="#008000"/>
<rect x="47" y="653" width="2" height="22" fill="#008000"/>
<rect x="49" y="661" width="2" height="14" fill="#008000"/>
<rect x="51" y="654" width="1" height="21" fill="#008000"/>
<rect x="52" y="662" width="2" height="13" fill="#008000"/>
<rect x="54" y="663" width="1" height="12" fill="#008000"/>
<rect x="55" y="656" width="2" height="19" fill="#008000"/>
<rect x="57" y="661" width="2" height="14" fill="#008000"/>
<rect x="59" y="661" width="1" height="14" fill="#008000"/>
<rect x="60" y="661" width="2" height="14" fill="#008000"/>
<rect x="62" y="664" width="1" height="11" fill="#008000"/>
<rect x="63" y="661" width="2" height="14" fill="#008000"/>
<rect x="65" y="662" width="2" height="13" fill="#008000"/>
<rect x="67" y="658" width="1" height="17" fill="#008000"/>
<rect x="68" y="661" width="2" height="14" fill="#008000"/>
<rect x="70" y="662" width="1" height="13" fill="#008000"/>
<rect x="71" y="664" width="2" height="11" fill="#008000"/>
<rect x="73" y="660" width="1" height="15" fill="#008000"/>
<rect x="74" y="662" width="2" height="13" fill="#008000"/>
<rect x="76" y="663" width="2" height="12" fill="#008000"/>
<rect x="78" y="662" width="1" height="13" fill="#008000"/>
<rect x="79" y="663" width="2" height="12" fill="#008000"/>
<rect x="81" y="663" width="1" height="12" fill="#008000"/>
<rect x="82" y="661" width="2" height="14" fill="#008000"/>
<rect x="84" y="664" width="2" height="11" fill="#008000"/>
<rect x="86" y="664" width="1" height="11" fill="#008000"/>
<rect x="87" y="664" width="2" height="11" fill="#008000"/>
<rect x="89" y="665" width="1" height="10" fill="#008000"/>
<rect x="90" y="663" width="2" height="12" fill="#008000"/>
<rect x="92" y="660" width="2" height="15" fill="#008000"/>
<rect x="94" y="660" width="1" height="15" fill="#008000"/>
<rect x="95" y="664" width="2" height="11" fill="#008000"/>
<rect x="97" y="662" width="1" height="13" fill="#008000"/>
<rect x="98" y="662" width="2" height="13" fill="#008000"/>
<rect x="100" y="657" width="2" height="18" fill="#008000"/>
<rect x="102" y="662" width="1" height="13" fill="#008000"/>
<rect x="103" y="659" width="2" height="16" fill="#008000"/>
<rect x="105" y="664" width="1" height="11" fill="#008000"/>
<rect x="106" y="661" width="2" height="14" fill="#008000"/>
<rect x="108" y="661" width="2" height="14" fill="#008000"/>
<rect x="110" y="663" width="1" height="12" fill="#008000"/>
<rect x="111" y="665" width="2" height="10" fill="#008000"/>
<rect x="113" y="664" width="1" height="11" fill="#008000"/>
<rect x="114" y="661" width="2" height="14" fill="#008000"/>
<rect x="116" y="660" width="1" height="15" fill="#008000"/>
<rect x="117" y="663" width="2" height="12" fill="#008000"/>
<rect x="119" y="662" width="2" height="13" fill="#008000"/>
<rect x="121" y="661" width="1" height="14" fill="#008000"/>
<rect x="122" y="650" width="2" height="25" fill="#008000"/>
<rect x="124" y="652" width="1" height="23" fill="#008000"/>
<rect x="125" y="663" width="2" height="12" fill="#008000"/>
<rect x="127" y="663" width="2" height="12" fill="#008000"/>
<rect x="129" y="663" width="1" height="12" fill="#008000"/>
<rect x="130" y="664" width="2" height="11" fill="#008000"/>
<rect x="132" y="663" width="1" height="12" fill="#008000"/>
<rect x="133" y="663" width="2" height="12" fill="#008000"/>
<rect x="135" y="663" width="2" height="12" fill="#008000"/>
<rect x="137" y="657" width="1" height="18" fill="#008000"/>
<rect x="138" y="664" width="2" height="11" fill="#008000"/>
<rect x="140" y="664" width="1" height="11" fill="#008000"/>
<rect x="141" y="663" width="2" height="12" fill="#008000"/>
<rect x="143" y="660" width="2" height="15" fill="#008000"/>
<rect x="145" y="656" width="1" height="19" fill="#008000"/>
<rect x="146" y="663" width="2" height="12" fill="#008000"/>
<rect x="148" y="660" width="1" height="15" fill="#008000"/>
<rect x="149" y="662" width="2" height="13" fill="#008000"/>
<rect x="151" y="664" width="2" height="11" fill="#008000"/>
<rect x="153" y="661" width="1" height="14" fill="#008000"/>
<rect x="154" y="664" width="2" height="11" fill="#008000"/>
<rect x="156" y="663" width="1" height="12" fill="#008000"/>
<rect x="157" y="662" width="2" height="13" fill="#008000"/>
<rect x="159" y="663" width="1" height="12" fill="#008000"/>
<rect x="160" y="663" width="2" height="12" fill="#008000"/>
<rect x="162" y="663" width="2" height="12" fill="#008000"/>
<rect x="164" y="664" width="1" height="11" fill="#008000"/>
<rect x="165" y="662" width="2" height="13" fill="#008000"/>
<rect x="167" y="662" width="1" height="13" fill="#008000"/>
<rect x="168" y="664" width="2" height="11" fill="#008000"/>
<rect x="170" y="662" width="2" height="13" fill="#008000"/>
<rect x="172" y="661" width="1" height="14" fill="#008000"/>
<rect x="173" y="664" width="2" height="11" fill="#008000"/>
<rect x="175" y="664" width="1" height="11" fill="#008000"/>
<rect x="176" y="662" width="2" height="13" fill="#008000"/>
<rect x="178" y="661" width="2" height="14" fill="#008000"/>
<rect x="180" y="657" width="1" height="18" fill="#008000"/>
<rect x="181" y="661" width="2" height="14" fill="#008000"/>
<rect x="183" y="660" width="1" height="15" fill="#008000"/>
<rect x="184" y="662" width="2" height="13" fill="#008000"/>
<rect x="186" y="658" width="2" height="17" fill="#008000"/>
<rect x="188" y="661" width="1" height="14" fill="#008000"/>
<rect x="189" y="656" width="2" height="19" fill="#008000"/>
<rect x="191" y="656" width="1" height="19" fill="#008000"/>
<rect x="192" y="657" width="2" height="18" fill="#008000"/>
<rect x="194" y="657" width="2" height="18" fill="#008000"/>
<rect x="196" y="656" width="1" height="19" fill="#008000"/>
<rect x="197" y="655" width="2" height="20" fill="#008000"/>
<rect x="199" y="655" width="1" height="20" fill="#008000"/>
<rect x="200" y="655" width="2" height="20" fill="#008000"/>
<rect x="202" y="656" width="2" height="19" fill="#008000"/>
<rect x="204" y="654" width="1" height="21" fill="#008000"/>
<rect x="205" y="655" width="2" height="20" fill="#008000"/>
<rect x="207" y="656" width="1" height="19" fill="#008000"/>
<rect x="208" y="655" width="2" height="20" fill="#008000"/>
<rect x="210" y="656" width="1" height="19" fill="#008000"/>
<rect x="211" y="656" width="2" height="19" fill="#008000"/>
<rect x="213" y="659" width="2" height="16" fill="#008000"/>
<rect x="215" y="655" width="1" height="20" fill="#008000"/>
<rect x="216" y="654" width="2" height="21" fill="#008000"/>
<rect x="218" y="654" width="1" height="21" fill="#008000"/>
<rect x="219" y="655" width="2" height="20" fill="#008000"/>
<rect x="221" y="658" width="2" height="17" fill="#008000"/>
<rect x="223" y="656" width="1" height="19" fill="#008000"/>
<rect x="224" y="659" width="2" height="16" fill="#008000"/>
<rect x="226" y="661" width="1" height="14" fill="#008000"/>
<rect x="227" y="654" width="2" height="21" fill="#008000"/>
<rect x="229" y="656" width="2" height="19" fill="#008000"/>
<rect x="231" y="658" width="1" height="17" fill="#008000"/>
<rect x="232" y="659" width="2" height="16" fill="#008000"/>
<rect x="234" y="658" width="1" height="17" fill="#008000"/>
<rect x="235" y="657" width="2" height="18" fill="#008000"/>
<rect x="237" y="659" width="2" height="16" fill="#008000"/>
<rect x="239" y="658" width="1" height="17" fill="#008000"/>
<rect x="240" y="657" width="2" height="18" fill="#008000"/>
<rect x="242" y="662" width="1" height="13" fill="#008000"/>
<rect x="243" y="659" width="2" height="16" fill="#008000"/>
<rect x="245" y="657" width="2" height="18" fill="#008000"/>
<rect x="247" y="633" width="1" height="42" fill="#008000"/>
<rect x="248" y="658" width="2" height="17" fill="#008000"/>
<rect x="250" y="638" width="1" height="37" fill="#008000"/>
<rect x="251" y="648" width="2" height="27" fill="#008000"/>
<rect x="253" y="642" width="1" height="33" fill="#008000"/>
<rect x="254" y="637" width="2" height="38" fill="#008000"/>
<rect x="256" y="655" width="2" height="20" fill="#008000"/>
<rect x="258" y="651" width="1" height="24" fill="#008000"/>
<rect x="259" y="658" width="2" height="17" fill="#008000"/>
<rect x="261" y="658" width="1" height="17" fill="#008000"/>
<rect x="262" y="648" width="2" height="27" fill="#008000"/>
<rect x="264" y="655" width="2" height="20" fill="#008000"/>
<rect x="266" y="641" width="1" height="34" fill="#008000"/>
<rect x="267" y="641" width="2" height="34" fill="#008000"/>
<rect x="269" y="659" width="1" height="16" fill="#008000"/>
<rect x="270" y="660" width="2" height="15" fill="#008000"/>
<rect x="272" y="654" width="2" height="21" fill="#008000"/>
<rect x="274" y="660" width="1" height="15" fill="#008000"/>
<rect x="275" y="656" width="2" height="19" fill="#008000"/>
<rect x="277" y="659" width="1" height="16" fill="#008000"/>
<rect x="278" y="655" width="2" height="20" fill="#008000"/>
<rect x="280" y="658" width="2" height="17" fill="#008000"/>
<rect x="282" y="659" width="1" height="16" fill="#008000"/>
<rect x="283" y="657" width="2" height="18" fill="#008000"/>
<rect x="285" y="657" width="1" height="18" fill="#008000"/>
<rect x="286" y="649" width="2" height="26" fill="#008000"/>
<rect x="288" y="657" width="2" height="18" fill="#008000"/>
<rect x="290" y="656" width="1" height="19" fill="#008000"/>
<rect x="291" y="659" width="2" height="16" fill="#008000"/>
<rect x="293" y="658" width="1" height="17" fill="#008000"/>
<rect x="294" y="655" width="2" height="20" fill="#008000"/>
<rect x="296" y="660" width="1" height="15" fill="#008000"/>
<rect x="297" y="649" width="2" height="26" fill="#008000"/>
<rect x="299" y="656" width="2" height="19" fill="#008000"/>
<rect x="301" y="652" width="1" height="23" fill="#008000"/>
<rect x="302" y="640" width="2" height="35" fill="#008000"/>
<rect x="304" y="652" width="1" height="23" fill="#008000"/>
<rect x="305" y="650" width="2" height="25" fill="#008000"/>
<rect x="307" y="651" width="2" height="24" fill="#008000"/>
<rect x="309" y="635" width="1" height="40" fill="#008000"/>
<rect x="310" y="646" width="2" height="29" fill="#008000"/>
<rect x="312" y="651" width="1" height="24" fill="#008000"/>
<rect x="313" y="642" width="2" height="33" fill="#008000"/>
<rect x="315" y="648" width="2" height="27" fill="#008000"/>
<rect x="317" y="652" width="1" height="23" fill="#008000"/>
<rect x="318" y="658" width="2" height="17" fill="#008000"/>
<rect x="320" y="657" width="1" height="18" fill="#008000"/>
<rect x="321" y="629" width="2" height="46" fill="#008000"/>
<rect x="323" y="653" width="2" height="22" fill="#008000"/>
<rect x="325" y="655" width="1" height="20" fill="#008000"/>
<rect x="326" y="653" width="2" height="22" fill="#008000"/>
<rect x="328" y="656" width="1" height="19" fill="#008000"/>
<rect x="329" y="658" width="2" height="17" fill="#008000"/>
<rect x="331" y="653" width="2" height="22" fill="#008000"/>
<rect x="333" y="645" width="1" height="30" fill="#008000"/>
<rect x="334" y="657" width="2" height="18" fill="#008000"/>
<rect x="336" y="654" width="1" height="21" fill="#008000"/>
<rect x="337" y="651" width="2" height="24" fill="#008000"/>
<rect x="339" y="657" width="2" height="18" fill="#008000"/>
<rect x="341" y="654" width="1" height="21" fill="#008000"/>
<rect x="342" y="651" width="2" height="24" fill="#008000"/>
<rect x="344" y="652" width="1" height="23" fill="#008000"/>
<rect x="345" y="636" width="2" height="39" fill="#008000"/>
<rect x="347" y="652" width="1" height="23" fill="#008000"/>
<rect x="348" y="640" width="2" height="35" fill="#008000"/>
<rect x="350" y="648" width="2" height="27" fill="#008000"/>
<rect x="352" y="630" width="1" height="45" fill="#008000"/>
<rect x="353" y="635" width="2" height="40" fill="#008000"/>
<rect x="355" y="638" width="1" height="37" fill="#008000"/>
<rect x="356" y="635" width="2" height="40" fill="#008000"/>
<rect x="358" y="629" width="2" height="46" fill="#008000"/>
<rect x="360" y="620" width="1" height="55" fill="#008000"/>
<rect x="361" y="635" width="2" height="40" fill="#008000"/>
<rect x="363" y="640" width="1" height="35" fill="#008000"/>
<rect x="364" y="632" width="2" height="43" fill="#008000"/>
<rect x="366" y="623" width="2" height="52" fill="#008000"/>
<rect x="368" y="630" width="1" height="45" fill="#008000"/>
<rect x="369" y="623" width="2" height="52" fill="#008000"/>
<rect x="371" y="620" width="1" height="55" fill="#008000"/>
<rect x="372" y="630" width="2" height="45" fill="#008000"/>
<rect x="374" y="586" width="2" height="89" fill="#008000"/>
<rect x="376" y="619" width="1" height="56" fill="#008000"/>
<rect x="377" y="631" width="2" height="44" fill="#008000"/>
<rect x="379" y="622" width="1" height="53" fill="#008000"/>
<rect x="380" y="633" width="2" height="42" fill="#008000"/>
<rect x="382" y="602" width="2" height="73" fill="#008000"/>
<rect x="384" y="632" width="1" height="43" fill="#008000"/>
<rect x="385" y="634" width="2" height="41" fill="#008000"/>
<rect x="387" y="613" width="1" height="62" fill="#008000"/>
<rect x="388" y="625" width="2" height="50" fill="#008000"/>
<rect x="390" y="631" width="1" height="44" fill="#008000"/>
<rect x="391" y="611" width="2" height="64" fill="#008000"/>
<rect x="393" y="620" width="2" height="55" fill="#008000"/>
<rect x="395" y="615" width="1" height="60" fill="#008000"/>
<rect x="396" y="629" width="2" height="46" fill="#008000"/>
<rect x="398" y="613" width="1" height="62" fill="#008000"/>
<rect x="399" y="613" width="2" height="62" fill="#008000"/>
<rect x="401" y="624" width="2" height="51" fill="#008000"/>
<rect x="403" y="617" width="1" height="58" fill="#008000"/>
<rect x="404" y="632" width="2" height="43" fill="#008000"/>
<rect x="406" y="640" width="1" height="35" fill="#008000"/>
<rect x="407" y="638" width="2" height="37" fill="#008000"/>
<rect x="409" y="641" width="2" height="34" fill="#008000"/>
<rect x="411" y="634" width="1" height="41" fill="#008000"/>
<rect x="412" y="645" width="2" height="30" fill="#008000"/>
<rect x="414" y="642" width="1" height="33" fill="#008000"/>
<rect x="415" y="626" width="2" height="49" fill="#008000"/>
<rect x="417" y="645" width="2" height="30" fill="#008000"/>
<rect x="419" y="651" width="1" height="24" fill="#008000"/>
<rect x="420" y="645" width="2" height="30" fill="#008000"/>
<rect x="422" y="640" width="1" height="35" fill="#008000"/>
<rect x="423" y="653" width="2" height="22" fill="#008000"/>
<rect x="425" y="646" width="2" height="29" fill="#008000"/>
<rect x="427" y="651" width="1" height="24" fill="#008000"/>
<rect x="428" y="653" width="2" height="22" fill="#008000"/>
<rect x="430" y="652" width="1" height="23" fill="#008000"/>
<rect x="431" y="649" width="2" height="26" fill="#008000"/>
<rect x="433" y="644" width="1" height="31" fill="#008000"/>
<rect x="434" y="650" width="2" height="25" fill="#008000"/>
<rect x="436" y="654" width="2" height="21" fill="#008000"/>
<rect x="438" y="650" width="1" height="25" fill="#008000"/>
<rect x="439" y="650" width="2" height="25" fill="#008000"/>
<rect x="441" y="650" width="1" height="25" fill="#008000"/>
<rect x="442" y="648" width="2" height="27" fill="#008000"/>
<rect x="444" y="652" width="2" height="23" fill="#008000"/>
<rect x="446" y="649" width="1" height="26" fill="#008000"/>
<rect x="447" y="653" width="2" height="22" fill="#008000"/>
<rect x="449" y="647" width="1" height="28" fill="#008000"/>
<rect x="450" y="653" width="2" height="22" fill="#008000"/>
<rect x="452" y="651" width="2" height="24" fill="#008000"/>
<rect x="454" y="649" width="1" height="26" fill="#008000"/>
<rect x="455" y="652" width="2" height="23" fill="#008000"/>
<rect x="457" y="637" width="1" height="38" fill="#008000"/>
<rect x="458" y="635" width="2" height="40" fill="#008000"/>
<rect x="460" y="644" width="2" height="31" fill="#008000"/>
<rect x="462" y="647" width="1" height="28" fill="#008000"/>
<rect x="463" y="646" width="2" height="29" fill="#008000"/>
<rect x="465" y="627" width="1" height="48" fill="#008000"/>
<rect x="466" y="632" width="2" height="43" fill="#008000"/>
<rect x="468" y="651" width="2" height="24" fill="#008000"/>
<rect x="470" y="651" width="1" height="24" fill="#008000"/>
<rect x="471" y="653" width="2" height="22" fill="#008000"/>
<rect x="473" y="651" width="1" height="24" fill="#008000"/>
<rect x="474" y="650" width="2" height="25" fill="#008000"/>
<rect x="476" y="643" width="2" height="32" fill="#008000"/>
<rect x="478" y="650" width="1" height="25" fill="#008000"/>
<rect x="479" y="651" width="2" height="24" fill="#008000"/>
<rect x="481" y="639" width="1" height="36" fill="#008000"/>
<rect x="482" y="642" width="2" height="33" fill="#008000"/>
<rect x="484" y="654" width="1" height="21" fill="#008000"/>
<rect x="485" y="647" width="2" height="28" fill="#008000"/>
<rect x="487" y="653" width="2" height="22" fill="#008000"/>
<rect x="489" y="658" width="1" height="17" fill="#008000"/>
<rect x="490" y="651" width="2" height="24" fill="#008000"/>
<rect x="492" y="655" width="1" height="20" fill="#008000"/>
<rect x="493" y="658" width="2" height="17" fill="#008000"/>
<rect x="495" y="654" width="2" height="21" fill="#008000"/>
<rect x="497" y="656" width="1" height="19" fill="#008000"/>
<rect x="498" y="657" width="2" height="18" fill="#008000"/>
<rect x="500" y="654" width="1" height="21" fill="#008000"/>
<rect x="501" y="656" width="2" height="19" fill="#008000"/>
<rect x="503" y="657" width="2" height="18" fill="#008000"/>
<rect x="505" y="658" width="1" height="17" fill="#008000"/>
<rect x="506" y="657" width="2" height="18" fill="#008000"/>
<rect x="508" y="657" width="1" height="18" fill="#008000"/>
<rect x="509" y="656" width="2" height="19" fill="#008000"/>
<rect x="511" y="657" width="2" height="18" fill="#008000"/>
<rect x="513" y="659" width="1" height="16" fill="#008000"/>
<rect x="514" y="658" width="2" height="17" fill="#008000"/>
<rect x="516" y="656" width="1" height="19" fill="#008000"/>
<rect x="517" y="656" width="2" height="19" fill="#008000"/>
<rect x="519" y="662" width="2" height="13" fill="#008000"/>
<rect x="521" y="659" width="1" height="16" fill="#008000"/>
<rect x="522" y="658" width="2" height="17" fill="#008000"/>
<rect x="524" y="653" width="1" height="22" fill="#008000"/>
<rect x="525" y="651" width="2" height="24" fill="#008000"/>
<rect x="527" y="658" width="1" height="17" fill="#008000"/>
<rect x="528" y="653" width="2" height="22" fill="#008000"/>
<rect x="530" y="662" width="2" height="13" fill="#008000"/>
<rect x="532" y="663" width="1" height="12" fill="#008000"/>
<rect x="533" y="664" width="2" height="11" fill="#008000"/>
<rect x="535" y="662" width="1" height="13" fill="#008000"/>
<polyline points="0.0,659.6 9.2,658.2 17.2,660.0 32.2,660.5 46.0,660.5 57.5,659.1 69.0,659.6 78.2,661.2 87.4,662.4 98.9,662.4 110.3,662.4 119.5,661.9 128.7,661.2 136.9,661.9 146.1,660.1 155.3,661.2 166.8,661.9 178.3,663.0 189.8,661.2 201.3,658.9 212.8,656.6 224.3,655.0 233.4,655.9 242.6,657.3 249.5,656.6 256.4,654.3 263.3,653.2 266.9,652.5 276.1,652.0 283.0,654.3 292.2,655.9 301.4,655.5 309.4,652.0 317.5,649.7 326.7,648.1 333.6,648.1 340.5,649.7 345.1,650.4 352.0,649.0 358.9,646.3 365.7,641.7 372.6,636.6 377.2,630.2 383.0,626.0 389.9,623.7 397.0,623.0 402.6,621.9 408.1,626.6 416.5,630.3 423.5,635.0 431.9,642.0 440.3,645.4 448.6,649.5 458.4,649.8 468.2,646.2 476.5,646.2 484.9,644.8 493.3,648.1 501.7,651.8 510.0,654.6 518.4,656.5 526.8,657.9 535.2,657.9" fill="none" stroke="#ff0000" stroke-width="2" stroke-linejoin="round"/>
<rect x="0" y="675" width="562" height="1" fill="#000"/>
<rect x="562" y="677" width="47" height="14" fill="#f0f0f0"/>
<text x="-2" y="688.6" font-size="12">g</text>
<rect x="17" y="675" width="1" height="16" fill="#000"/>
<text x="19" y="688.6" font-size="12" letter-spacing="0.2">Sep</text>
<rect x="48" y="675" width="1" height="16" fill="#000"/>
<text x="50" y="688.6" font-size="12" letter-spacing="0.2">Oct</text>
<rect x="84" y="675" width="1" height="16" fill="#000"/>
<text x="86" y="688.6" font-size="12" letter-spacing="0.2">Nov</text>
<rect x="118" y="675" width="1" height="16" fill="#000"/>
<text x="120" y="688.6" font-size="12" letter-spacing="0.2">Dec</text>
<rect x="153" y="675" width="1" height="16" fill="#000"/>
<text x="155" y="688.6" font-size="12" letter-spacing="0.2">2025</text>
<rect x="212" y="675" width="1" height="16" fill="#000"/>
<text x="214" y="688.6" font-size="12" letter-spacing="0.2">Mar</text>
<rect x="245" y="675" width="1" height="16" fill="#000"/>
<text x="247" y="688.6" font-size="12" letter-spacing="0.2">Apr</text>
<rect x="277" y="675" width="1" height="16" fill="#000"/>
<text x="279" y="688.6" font-size="12" letter-spacing="0.2">May</text>
<rect x="309" y="675" width="1" height="16" fill="#000"/>
<text x="311" y="688.6" font-size="12" letter-spacing="0.2">Jun</text>
<rect x="342" y="675" width="1" height="16" fill="#000"/>
<text x="344" y="688.6" font-size="12" letter-spacing="0.2">Jul</text>
<rect x="379" y="675" width="1" height="16" fill="#000"/>
<text x="381" y="688.6" font-size="12" letter-spacing="0.2">Aug</text>
<rect x="412" y="675" width="1" height="16" fill="#000"/>
<text x="414" y="688.6" font-size="12" letter-spacing="0.2">Sep</text>
<rect x="444" y="675" width="1" height="16" fill="#000"/>
<text x="446" y="688.6" font-size="12" letter-spacing="0.2">Oct</text>
<rect x="481" y="675" width="1" height="16" fill="#000"/>
<text x="483" y="688.6" font-size="12" letter-spacing="0.2">Nov</text>
<rect x="513" y="675" width="1" height="16" fill="#000"/>
<text x="515" y="688.6" font-size="12" letter-spacing="0.2">Dec</text>
<rect x="181" y="675" width="1" height="2" fill="#000"/>
<rect x="549" y="675" width="1" height="16" fill="#000"/>
<svg x="551" y="676" width="8.8" height="15" overflow="hidden"><text x="0.5" y="12.6" font-size="12">2026</text></svg>
<rect x="562" y="662" width="34" height="13" fill="#000"/>
<rect x="563" y="663" width="32" height="13" fill="#fff"/>
<rect x="562" y="675" width="1" height="1" fill="#fff"/>
<rect x="595" y="675" width="1" height="1" fill="#fff"/>
<text transform="translate(564,671.7) scale(1,1.04)" font-size="9">x10000</text>
</svg>
</body></html>
